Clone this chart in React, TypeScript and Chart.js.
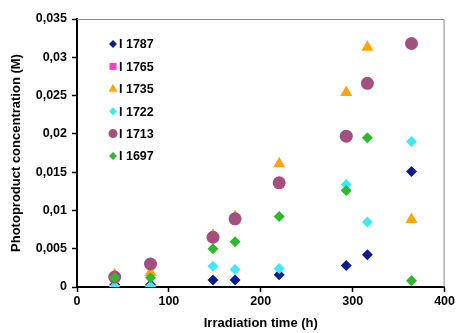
import React, { useEffect, useRef } from 'react';
import { Chart, registerables } from 'chart.js';

Chart.register(...registerables);

const xHours = [41, 80, 148, 172, 220, 293, 316, 364];

const s1787 = [0.0003, 0.0003, 0.0009, 0.0009, 0.0016, 0.0028, 0.0042, 0.0151];
const s1765: (number | null)[] = [null, null, null, null, null, null, null, null];
const s1735 = [0.0016, 0.0019, 0.0068, 0.0092, 0.0161, 0.0254, 0.0313, 0.0088];
const s1722 = [0.0001, 0.0001, 0.0027, 0.0023, 0.0024, 0.0134, 0.0085, 0.019];
const s1713 = [0.0013, 0.003, 0.0065, 0.0089, 0.0136, 0.0197, 0.0266, 0.0318];
const s1697 = [0.0012, 0.0012, 0.005, 0.0059, 0.0092, 0.0126, 0.0195, 0.0008];

const seriesNames = ['I 1787', 'I 1765', 'I 1735', 'I 1722', 'I 1713', 'I 1697'];
const seriesValues = [s1787, s1765, s1735, s1722, s1713, s1697];
const seriesColors = ['#101C8E', '#FF3FCB', '#FFA510', '#3DE9FA', '#A3507F', '#2EB82E'];
const seriesShapes = ['rectRot', 'rect', 'triangle', 'rectRot', 'circle', 'rectRot'];
const seriesRadius = [5.5, 5, 7, 5.5, 6.5, 5.5];

const yTickLabels = ['0', '0,005', '0,01', '0,015', '0,02', '0,025', '0,03', '0,035'];
const xTickLabels = ['0', '100', '200', '300', '400'];

const FONT = "'Liberation Sans', Arial, sans-serif";

function drawShape(ctx: CanvasRenderingContext2D, shape: string, x: number, y: number, r: number) {
  ctx.beginPath();
  if (shape === 'rectRot') {
    ctx.moveTo(x, y - r);
    ctx.lineTo(x + r, y);
    ctx.lineTo(x, y + r);
    ctx.lineTo(x - r, y);
    ctx.closePath();
  } else if (shape === 'rect') {
    ctx.rect(x - r, y - r, 2 * r, 2 * r);
  } else if (shape === 'triangle') {
    ctx.moveTo(x, y - r);
    ctx.lineTo(x + r * 0.9, y + r * 0.6);
    ctx.lineTo(x - r * 0.9, y + r * 0.6);
    ctx.closePath();
  } else {
    ctx.arc(x, y, r, 0, Math.PI * 2);
  }
  ctx.fill();
}

const framePlugin = {
  id: 'frame',
  beforeDatasetsDraw(chart: any) {
    const { ctx, chartArea } = chart;
    ctx.save();
    ctx.strokeStyle = '#8a8a8a';
    ctx.lineWidth = 1;
    ctx.beginPath();
    ctx.moveTo(chartArea.left, chartArea.top + 0.5);
    ctx.lineTo(chartArea.right - 0.5, chartArea.top + 0.5);
    ctx.lineTo(chartArea.right - 0.5, chartArea.bottom);
    ctx.stroke();
    ctx.restore();
  },
};

const legendPlugin = {
  id: 'innerLegend',
  afterDatasetsDraw(chart: any) {
    const { ctx, chartArea } = chart;
    ctx.save();
    const x0 = chartArea.left + 36;
    const y0 = chartArea.top + 25;
    const step = 22.4;
    ctx.font = `bold 12.5px ${FONT}`;
    ctx.textBaseline = 'middle';
    ctx.textAlign = 'left';
    seriesNames.forEach((name, i) => {
      const y = y0 + i * step;
      ctx.fillStyle = seriesColors[i];
      const s = seriesShapes[i];
      const r = s === 'rect' ? 3.5 : s === 'triangle' ? 5 : s === 'circle' ? 4.5 : 4;
      drawShape(ctx, s, x0, y, r);
      ctx.fillStyle = '#000';
      ctx.fillText(name, x0 + 6, y + 1);
    });
    ctx.restore();
  },
};

export default function App() {
  const ref = useRef<HTMLCanvasElement>(null);
  useEffect(() => {
    document.body.style.margin = '0';
    const datasets = seriesNames.map((name, i) => ({
      label: name,
      data: xHours
        .map((x, j) => ({ x, y: seriesValues[i][j] }))
        .filter((p) => p.y !== null),
      backgroundColor: seriesColors[i],
      borderColor: seriesColors[i],
      pointStyle: seriesShapes[i],
      pointRadius: seriesRadius[i],
      pointBorderWidth: 0,
      showLine: false,
      order: seriesNames.length - i,
    }));
    const chart = new Chart(ref.current!, {
      type: 'scatter',
      data: { datasets: datasets as any },
      options: {
        animation: false,
        responsive: true,
        maintainAspectRatio: false,
        layout: { padding: { top: 19, right: 10, left: 0, bottom: 0 } },
        plugins: {
          legend: { display: false },
          tooltip: { enabled: false },
        },
        scales: {
          x: {
            type: 'linear',
            min: 0,
            max: 400,
            afterFit: (s: any) => {
              s.height = 46;
            },
            afterBuildTicks: (s: any) => {
              s.ticks = xTickLabels.map((_, i) => ({ value: i * 100 }));
            },
            ticks: {
              color: '#000',
              font: { family: FONT, size: 12.5, weight: 'bold' },
              padding: 2,
              maxRotation: 0,
              callback: (_v: any, i: number) => xTickLabels[i],
            },
            grid: { display: true, drawOnChartArea: false, color: '#000', tickLength: 5, tickWidth: 1.5 },
            border: { display: true, color: '#000', width: 2 },
            title: {
              display: true,
              text: 'Irradiation time (h)',
              color: '#000',
              font: { family: FONT, size: 13, weight: 'bold' },
              padding: { top: 0, bottom: 2 },
            },
          },
          y: {
            type: 'linear',
            min: 0,
            max: 0.035,
            afterFit: (s: any) => {
              s.width = 77;
            },
            afterBuildTicks: (s: any) => {
              s.ticks = yTickLabels.map((_, i) => ({ value: i * 0.005 }));
            },
            ticks: {
              color: '#000',
              font: { family: FONT, size: 12.5, weight: 'bold' },
              padding: 5,
              callback: (_v: any, i: number) => yTickLabels[i],
            },
            grid: { display: true, drawOnChartArea: false, color: '#000', tickLength: 5, tickWidth: 1.5 },
            border: { display: true, color: '#000', width: 2 },
            title: {
              display: true,
              text: 'Photoproduct concentration (M)',
              color: '#000',
              font: { family: FONT, size: 13, weight: 'bold' },
              padding: { top: 9, bottom: 0 },
            },
          },
        },
      },
      plugins: [framePlugin, legendPlugin],
    });
    return () => chart.destroy();
  }, []);
  return (
    <div style={{ position: 'relative', width: 457, height: 333 }}>
      <canvas ref={ref} />
    </div>
  );
}
